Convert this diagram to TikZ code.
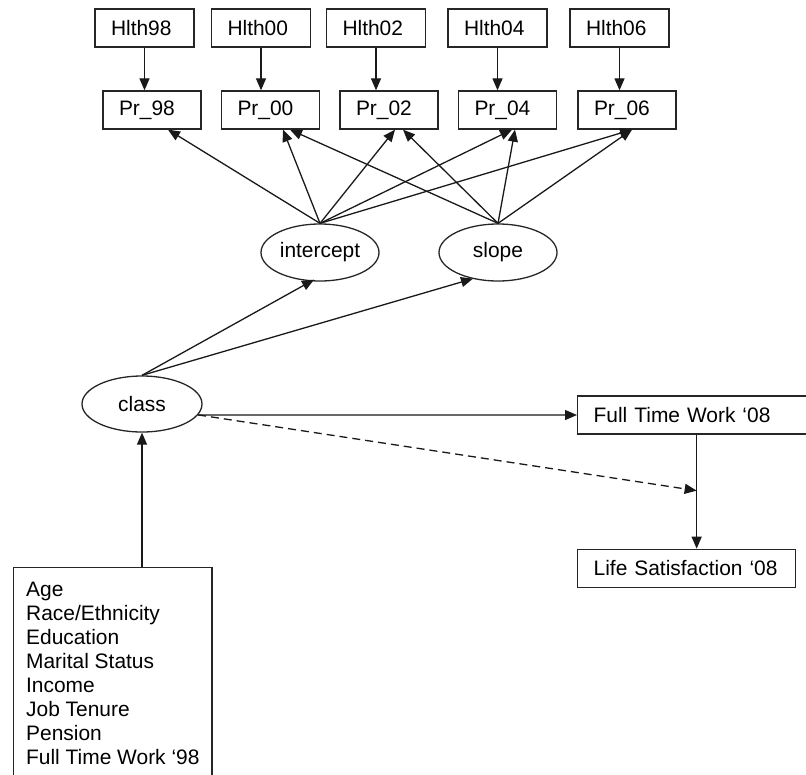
\documentclass[tikz,border=0pt]{standalone}
\usepackage{fontspec}
\setmainfont{Liberation Sans}
\usetikzlibrary{positioning}
\usetikzlibrary{shapes.geometric}
\usetikzlibrary{arrows.meta}
\newlength\pxl
\setlength\pxl{0.75pt}
\tikzset{%
  varbox/.style={rectangle,draw=black!85,line width=1.3\pxl,inner xsep=16\pxl,inner ysep=0pt,minimum height=38\pxl,align=left}
}
\tikzset{%
  latent/.style={ellipse,draw=black!85,line width=1.3\pxl,inner sep=0pt,minimum width=118\pxl,minimum height=57\pxl}
}
\tikzset{%
  effect/.style={draw=black!90,line width=1.3\pxl,-{Triangle[length=9pt,width=7.5pt]}}
}

\begin{document}
\begin{tikzpicture}[x=1\pxl,y=-1\pxl,font=\fontsize{15.7pt}{18pt}\selectfont]
            \useasboundingbox (0,0) rectangle (806,774);
            \clip (0,0) rectangle (806,774);
            % health indicators
            \node[varbox,text width=67\pxl](h98) at (144.5,28){Hlth98};
            \node[varbox,text width=67\pxl](h00) at (261,28){Hlth00};
            \node[varbox,text width=67\pxl](h02) at (376,28){Hlth02};
            \node[varbox,text width=67\pxl](h04) at (497.5,28){Hlth04};
            \node[varbox,text width=67\pxl](h06) at (619.5,28){Hlth06};
            \node[varbox,text width=66\pxl](pr98) at (152,110){Pr\_98};
            \node[varbox,text width=66\pxl](pr00) at (270.5,110){Pr\_00};
            \node[varbox,text width=66\pxl](pr02) at (389,110){Pr\_02};
            \node[varbox,text width=66\pxl](pr04) at (507.5,110){Pr\_04};
            \node[varbox,text width=66\pxl](pr06) at (627,110){Pr\_06};
            \draw[effect] (h98.south) -- (h98.south |- pr98.north);
            \draw[effect] (h00.south) -- (h00.south |- pr00.north);
            \draw[effect] (h02.south) -- (h02.south |- pr02.north);
            \draw[effect] (h04.south) -- (h04.south |- pr04.north);
            \draw[effect] (h06.south) -- (h06.south |- pr06.north);

            % growth factors
            \node[latent](intercept) at (320,252.5){intercept};
            \node[latent](slope) at (498,252.5){slope};
            \draw[effect] (intercept.north) -- ([xshift=16\pxl]pr98.south);
            \draw[effect] (intercept.north) -- ([xshift=12.5\pxl]pr00.south);
            \draw[effect] (intercept.north) -- ([xshift=6\pxl]pr02.south);
            \draw[effect] (intercept.north) -- ([xshift=4.5\pxl]pr04.south);
            \draw[effect] (intercept.north) -- ([xshift=5\pxl]pr06.south);
            \draw[effect] (slope.north) -- ([xshift=19.5\pxl]pr00.south);
            \draw[effect] (slope.north) -- ([xshift=14\pxl]pr02.south);
            \draw[effect] (slope.north) -- ([xshift=7.5\pxl]pr04.south);
            \draw[effect] (slope.north) -- ([xshift=5\pxl]pr06.south);

            % latent class and outcomes
            \node[latent,minimum width=120\pxl,minimum height=56\pxl](class) at (142,404){class};
            \draw[effect] (class.north) -- ([xshift=-6\pxl,yshift=2\pxl]intercept.south);
            \draw[effect] (class.north) -- ([xshift=-25\pxl,yshift=3\pxl]slope.south);
            \node[varbox,anchor=west,text width=206\pxl](ftw) at (577,415){Full Time Work `08};
            \node[varbox,below right=114\pxl and 0pt of ftw.south west,text width=186\pxl](ls){Life Satisfaction `08};
            \coordinate(dtip) at ([yshift=-56\pxl]ftw.south);
            \draw[effect] (class.-11) -- (ftw.west);
            \draw[effect,dash pattern=on 8\pxl off 5\pxl] (class.-11) -- (dtip);
            \draw[effect] (ftw.south) -- (ftw.south |- ls.north);

            % covariates
            \node[varbox,anchor=north west,inner xsep=12.5\pxl,inner ysep=14\pxl](covs) at (13,567){Age\\Race/Ethnicity\\Education\\Marital Status\\Income\\Job Tenure\\Pension\\Full Time Work `98};
            \draw[effect] (class.south |- covs.north) -- (class.south);
        \end{tikzpicture}
\end{document}
